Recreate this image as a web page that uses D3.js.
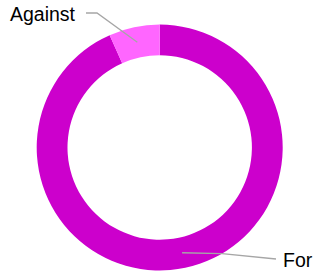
<!DOCTYPE html>
<html>
<head>
<meta charset="utf-8">
<script src="https://cdn.jsdelivr.net/npm/d3@7"></script>
<style>
	body { margin: 0; background: #fff; }
	svg { display: block; }
	text { font-family: 'Liberation Sans', Arial, sans-serif; font-size: 19.5px; fill: #000; }
</style>
</head>
<body>
<div id="my_dataviz"></div>
<script>
const categories = [ 'For', 'Against' ];
const values = [ 14, 1 ];
const colors = [ '#CC00CC', '#FF66FF' ];

const width = 317;
const height = 271;
const cx = 159.7;
const cy = 147.5;
const outerRadius = 123;
const innerRadius = 92.2;

const svg = d3.select('#my_dataviz').append('svg').attr('width', width).attr('height', height);

const data = categories.map(function(c, i) {
	return { name: c, value: values[i], color: colors[i] };
});

const pie = d3.pie().sort(null).value(function(d) {
	return d.value;
});
const arcs = pie(data);

const arc = d3.arc().innerRadius(innerRadius).outerRadius(outerRadius);
const midArc = d3.arc().innerRadius((innerRadius + outerRadius) / 2).outerRadius((innerRadius + outerRadius) / 2);

const g = svg.append('g').attr('transform', `translate(${cx}, ${cy})`);

g
	.selectAll('path.slice')
	.data(arcs)
	.enter()
	.append('path')
	.attr('class', 'slice')
	.attr('d', arc)
	.attr('fill', function(d) {
		return d.data.color;
	});

// leader lines + labels (label spots picked by hand, like excel does)
const labelSpots = {
	For     : { end: [ 276, 259 ], text: [ 283, 267 ], anchor: 'start' },
	Against : { bend: [ 97, 13 ], end: [ 86, 13 ], text: [ 75, 20.5 ], anchor: 'end' }
};

arcs.forEach(function(d) {
	const spot = labelSpots[d.data.name];
	const c = midArc.centroid(d);
	const pts = [ [ cx + c[0], cy + c[1] ] ];
	if (spot.bend) pts.push(spot.bend);
	else pts.push([ cx + c[0] + 40, cy + c[1] + 0.8 ]);
	pts.push(spot.end);

	svg
		.append('path')
		.attr('d', d3.line()(pts))
		.attr('fill', 'none')
		.attr('stroke', '#A6A6A6')
		.attr('stroke-width', 1.3);

	svg
		.append('text')
		.attr('x', spot.text[0])
		.attr('y', spot.text[1])
		.attr('text-anchor', spot.anchor)
		.text(d.data.name);
});
</script>
</body>
</html>
